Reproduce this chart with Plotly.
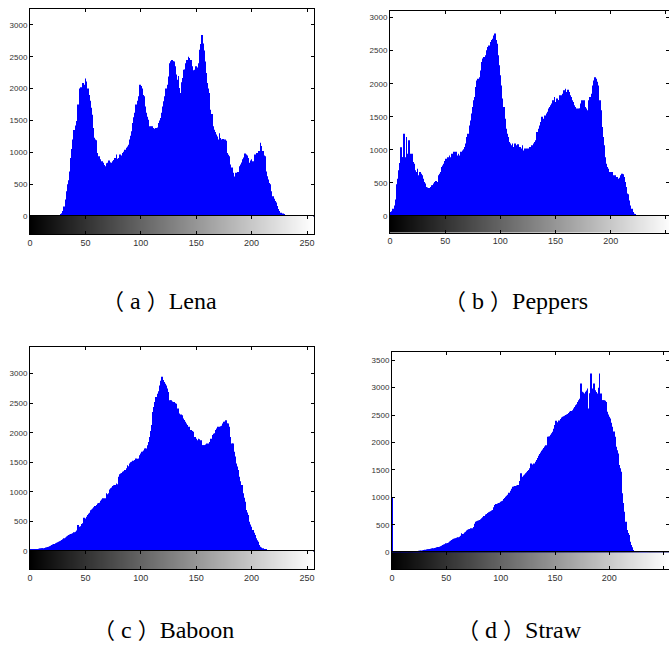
import plotly.graph_objects as go

# ---------------- data ----------------
bins = list(range(256))

lena_counts = [
    0, 0, 0, 0, 0, 0, 0, 0, 0, 0, 0, 0, 0, 0, 0, 0,
    0, 0, 0, 0, 0, 0, 0, 0, 0, 2, 5, 12, 25, 45, 80, 150,
    260, 390, 500, 560, 700, 910, 1050, 1200, 1350, 1420, 1490, 1750, 1720, 2000, 2020, 2010,
    2090, 2060, 2160, 2110, 2000, 1900, 1810, 1700, 1590, 1380, 1230, 1200, 1190, 990, 940, 890,
    835, 860, 835, 800, 780, 830, 835, 870, 840, 835, 810, 860, 880, 910, 965, 900,
    910, 965, 950, 940, 990, 1010, 1040, 1070, 1090, 1120, 1200, 1260, 1330, 1460, 1550, 1620,
    1750, 1810, 1880, 2060, 2040, 2000, 1900, 1880, 1720, 1620, 1560, 1510, 1410, 1400, 1410, 1380,
    1370, 1330, 1380, 1390, 1460, 1500, 1540, 1620, 1720, 1800, 1880, 2000, 2060, 2190, 2400, 2430,
    2450, 2430, 2425, 2350, 2220, 2140, 2200, 2010, 1930, 2100, 2165, 2295, 2300, 2400, 2450, 2500,
    2480, 2450, 2350, 2270, 2290, 2295, 2350, 2330, 2400, 2610, 2700, 2840, 2710, 2600, 2425, 2245,
    2090, 2000, 1930, 1670, 1600, 1410, 1355, 1320, 1280, 1250, 1200, 1300, 1225, 1200, 1210, 1150,
    1200, 1180, 990, 960, 940, 810, 760, 680, 600, 620, 680, 650, 690, 780, 810, 840,
    890, 920, 980, 965, 950, 910, 835, 870, 890, 860, 835, 965, 940, 990, 960, 1020,
    1150, 1100, 1020, 950, 940, 700, 625, 575, 520, 500, 390, 310, 270, 235, 210, 156,
    110, 78, 52, 52, 40, 26, 10, 5, 2, 0, 0, 0, 0, 0, 0, 0,
    0, 0, 0, 0, 0, 0, 0, 0, 0, 0, 0, 0, 0, 0, 0, 0,
]

peppers_counts = [
    60, 35, 70, 110, 160, 250, 480, 565, 690, 800, 1040, 890, 890, 1245, 890, 1195,
    940, 1145, 940, 930, 940, 815, 790, 690, 665, 715, 615, 665, 640, 615, 565, 515,
    490, 440, 430, 425, 415, 440, 465, 465, 490, 515, 530, 515, 615, 640, 665, 740,
    765, 790, 830, 865, 890, 890, 915, 890, 940, 930, 970, 930, 970, 915, 940, 915,
    970, 940, 990, 1010, 1045, 1095, 1195, 1245, 1370, 1445, 1550, 1650, 1750, 1800, 1950, 2050,
    2075, 2100, 2200, 2330, 2380, 2405, 2405, 2430, 2505, 2555, 2580, 2630, 2660, 2680, 2730, 2760,
    2660, 2605, 2430, 2280, 2130, 1975, 1775, 1650, 1470, 1320, 1245, 1195, 1120, 1095, 1070, 1095,
    1045, 1095, 1070, 1045, 1085, 1020, 1045, 1020, 1070, 990, 1020, 990, 1020, 985, 1020, 1045,
    1020, 1070, 1095, 1120, 1145, 1270, 1245, 1320, 1370, 1420, 1500, 1470, 1520, 1520, 1550, 1575,
    1625, 1650, 1675, 1700, 1750, 1800, 1725, 1775, 1750, 1750, 1825, 1790, 1825, 1850, 1900, 1925,
    1875, 1910, 1875, 1825, 1800, 1750, 1725, 1675, 1650, 1625, 1625, 1625, 1625, 1700, 1750, 1700,
    1750, 1650, 1625, 1600, 1750, 1800, 1775, 1850, 1975, 2050, 2100, 2075, 2030, 1975, 1750, 1600,
    1345, 1195, 1070, 890, 790, 740, 715, 665, 640, 665, 615, 590, 615, 565, 590, 565,
    580, 615, 640, 630, 590, 515, 440, 340, 330, 235, 160, 110, 60, 35, 25, 15,
    10, 6, 4, 2, 1, 0, 0, 0, 0, 0, 0, 0, 0, 0, 0, 0,
    0, 0, 0, 0, 0, 0, 0, 0, 0, 0, 0, 0, 0, 0, 0, 0,
]

baboon_counts = [
    15, 17, 20, 22, 25, 28, 30, 35, 40, 42, 44, 45, 48, 52, 58, 62,
    68, 73, 80, 90, 100, 110, 120, 130, 140, 150, 158, 165, 175, 185, 200, 215,
    230, 245, 260, 270, 280, 287, 290, 300, 315, 326, 345, 440, 380, 410, 420, 455,
    470, 563, 550, 580, 608, 630, 647, 690, 700, 720, 740, 760, 777, 805, 810, 816,
    850, 870, 890, 880, 890, 975, 960, 975, 1040, 1060, 1075, 1100, 1110, 1115, 1140, 1130,
    1255, 1300, 1310, 1320, 1340, 1350, 1370, 1400, 1450, 1435, 1480, 1500, 1510, 1525, 1490, 1540,
    1565, 1560, 1565, 1620, 1650, 1680, 1680, 1700, 1735, 1735, 1790, 1845, 1930, 2030, 2130, 2350,
    2435, 2520, 2605, 2660, 2700, 2800, 2880, 2945, 2890, 2860, 2830, 2800, 2750, 2690, 2550, 2550,
    2530, 2520, 2520, 2500, 2490, 2410, 2410, 2325, 2310, 2295, 2240, 2215, 2185, 2155, 2130, 2100,
    2100, 2045, 2030, 2015, 1930, 1930, 1900, 1875, 1900, 1890, 1875, 1790, 1790, 1790, 1790, 1800,
    1820, 1820, 1845, 1900, 1900, 1960, 1985, 1990, 2045, 2070, 2100, 2100, 2110, 2120, 2155, 2185,
    2185, 2210, 2155, 2155, 2100, 1930, 1820, 1820, 1680, 1600, 1480, 1430, 1370, 1255, 1180, 1115,
    975, 900, 833, 692, 650, 608, 495, 450, 410, 355, 310, 270, 214, 180, 158, 100,
    73, 60, 45, 35, 28, 17, 14, 12, 10, 8, 7, 6, 5, 5, 4, 4,
    3, 3, 3, 2, 2, 2, 2, 2, 1, 1, 1, 1, 1, 1, 1, 1,
    1, 1, 1, 1, 1, 0, 0, 0, 0, 0, 0, 0, 0, 0, 0, 0,
]

straw_counts = [
    1000, 3, 3, 4, 4, 4, 5, 5, 5, 5, 6, 6, 6, 6, 6, 7,
    7, 8, 9, 10, 12, 14, 16, 18, 22, 26, 30, 34, 38, 42, 45, 48,
    50, 54, 57, 60, 65, 70, 73, 78, 85, 91, 95, 98, 103, 110, 120, 133,
    140, 145, 165, 170, 180, 195, 210, 225, 237, 245, 250, 255, 265, 275, 285, 300,
    345, 335, 340, 360, 375, 395, 410, 420, 425, 437, 440, 460, 520, 558, 565, 575,
    580, 590, 600, 620, 640, 660, 690, 700, 715, 730, 740, 750, 760, 770, 820, 860,
    880, 890, 900, 904, 920, 930, 940, 970, 990, 1013, 1030, 1050, 1086, 1120, 1160, 1195,
    1200, 1207, 1207, 1215, 1225, 1225, 1300, 1440, 1377, 1400, 1420, 1440, 1460, 1480, 1500, 1530,
    1620, 1590, 1600, 1620, 1650, 1680, 1720, 1760, 1790, 1820, 1850, 1875, 1900, 1930, 1950, 2105,
    2110, 2117, 2140, 2170, 2195, 2250, 2320, 2395, 2370, 2348, 2400, 2430, 2457, 2470, 2480, 2490,
    2500, 2510, 2520, 2540, 2560, 2575, 2590, 2620, 2650, 2680, 2700, 2740, 2772, 2800, 3075, 2925,
    2910, 2895, 2925, 2950, 2985, 2620, 2900, 3257, 2985, 2950, 3075, 2955, 2920, 2895, 3000, 3257,
    2895, 2772, 2772, 2772, 2760, 2740, 2560, 2510, 2470, 2440, 2360, 2287, 2200, 2105, 1923, 1860,
    1800, 1590, 1530, 1468, 1074, 900, 740, 558, 406, 350, 315, 194, 133, 90, 42, 24,
    15, 10, 7, 5, 4, 3, 3, 2, 2, 1, 1, 1, 1, 0, 0, 0,
    0, 0, 0, 0, 0, 0, 0, 0, 0, 0, 0, 0, 0, 0, 0, 0,
]

caption_letters = ["a", "b", "c", "d"]
caption_names = ["Lena", "Peppers", "Baboon", "Straw"]
x_ticks = [0, 50, 100, 150, 200, 250]
series = [lena_counts, peppers_counts, baboon_counts, straw_counts]

# ---------------- layout geometry (pixels) ----------------
W, H = 669, 646
# left, right, top, zero-line, gradient bottom, x max, y max
geom = [
    (30, 314, 9, 216, 234, 256.3, 3250),
    (390, 669, 11, 216, 232.5, 252.8, 3100),
    (30, 314, 347, 551, 569, 256.3, 3450),
    (392, 669, 352, 552.3, 569, 254.9, 3650),
]
ytick_max = [3000, 3000, 3000, 3500]
cap_pos = [(100, 299), (442, 299), (91, 628), (455, 628)]

fig = go.Figure()
ytick_font = dict(family="Liberation Sans, Arial, sans-serif", size=8, color="#333333")
xtick_font = dict(family="Liberation Sans, Arial, sans-serif", size=9, color="#333333")
open_p = "<span style=\"font-family:'Noto Sans CJK SC';font-size:22px;letter-spacing:6px\">（</span>"
close_p = "<span style=\"font-family:'Noto Sans CJK SC';font-size:22px\">）</span>"

for i, (counts, g) in enumerate(zip(series, geom)):
    left, right, top, zero, bot, xmax, ymax = g
    hx, hy = 2 * i + 1, 2 * i + 1
    gx, gy = 2 * i + 2, 2 * i + 2
    hxs = "x" if hx == 1 else f"x{hx}"
    hys = "y" if hy == 1 else f"y{hy}"
    gxs, gys = f"x{gx}", f"y{gy}"

    fig.add_trace(go.Bar(x=bins, y=counts, xaxis=hxs, yaxis=hys,
                         marker=dict(color="#0000ff", line=dict(width=0)),
                         width=0.7, showlegend=False, hoverinfo="skip"))
    fig.add_trace(go.Heatmap(x=bins, z=[bins], xaxis=gxs, yaxis=gys,
                             colorscale=[[0, "#000000"], [1, "#ffffff"]],
                             showscale=False, hoverinfo="skip"))

    xdom = [left / W, min(right / W, 1.0)]
    hk = "xaxis" if hx == 1 else f"xaxis{hx}"
    yk = "yaxis" if hy == 1 else f"yaxis{hy}"
    fig.layout[hk] = dict(domain=xdom, anchor=hys, range=[0, xmax], side="top",
                          showline=True, linecolor="black", linewidth=1,
                          ticks="inside", ticklen=3, tickcolor="black",
                          tickvals=x_ticks, showticklabels=False, automargin=False,
                          showgrid=False, zeroline=False)
    fig.layout[yk] = dict(domain=[1 - zero / H, 1 - top / H], anchor=hxs,
                          range=[0, ymax], showline=True, mirror="ticks",
                          linecolor="black", linewidth=1, automargin=False,
                          ticks="inside", ticklen=3, tickcolor="black",
                          tickvals=list(range(0, ytick_max[i] + 1, 500)),
                          tickfont=ytick_font, showgrid=False,
                          zeroline=True, zerolinecolor="#000060", zerolinewidth=2)
    fig.layout[f"xaxis{gx}"] = dict(domain=xdom, anchor=gys, range=[0, xmax],
                                    showline=True, mirror="ticks", linecolor="black",
                                    linewidth=1, ticks="inside", ticklen=3,
                                    tickcolor="black", tickvals=x_ticks, automargin=False,
                                    tickfont=xtick_font, showgrid=False, zeroline=False)
    fig.layout[f"yaxis{gy}"] = dict(domain=[1 - bot / H, 1 - zero / H], anchor=gxs,
                                    range=[-0.5, 0.5], showline=True, mirror=True,
                                    linecolor="black", linewidth=1, automargin=False,
                                    showticklabels=False, ticks="",
                                    showgrid=False, zeroline=False)

    cx, cy = cap_pos[i]
    text = (open_p + "<span style=\"letter-spacing:6px\">" + caption_letters[i] + "</span>"
            + close_p + caption_names[i])
    fig.add_annotation(text=text, x=cx / W, y=1 - cy / H, xref="paper", yref="paper",
                       xanchor="left", yanchor="middle", showarrow=False,
                       font=dict(family="'Liberation Serif', 'Times New Roman', serif",
                                 size=24, color="black"))

fig.update_layout(width=W, height=H, margin=dict(l=0, r=0, t=0, b=0),
                  paper_bgcolor="white", plot_bgcolor="white", showlegend=False)

fig.write_html("out.html", config={"displayModeBar": False},
               post_script="document.body.style.margin='0';document.body.style.overflow='hidden';")
